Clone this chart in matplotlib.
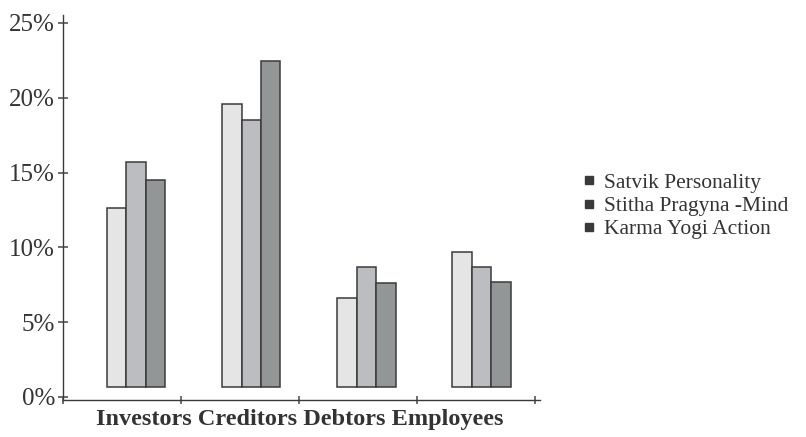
import matplotlib.pyplot as plt
from matplotlib.lines import Line2D
import numpy as np

categories = ["Investors", "Creditors", "Debtors", "Employees"]
series_names = ["Satvik Personality", "Stitha Pragyna -Mind", "Karma Yogi Action"]
satvik = [12.66, 19.55, 6.62, 9.69]
stitha = [15.68, 18.54, 8.68, 8.68]
karma = [14.52, 22.46, 7.63, 7.67]
y_ticks = [0, 5, 10, 15, 20, 25]
y_tick_labels = ["0%", "5%", "10%", "15%", "20%", "25%"]

colors = ["#e4e5e4", "#bcbdc0", "#939696"]
edge = "#3a3a3a"
text_col = "#333333"
serif = ["Liberation Serif", "DejaVu Serif"]

fig = plt.figure(figsize=(8.06, 4.37), dpi=100)
ax = fig.add_axes([0.078, 0.0847, 0.592, 0.881])

base = 0.67  # bars float slightly above the axis in the original
width = 0.165
centers = 0.62 + 0.975 * np.arange(len(categories))
for k, vals in enumerate([satvik, stitha, karma]):
    x = centers + (k - 1) * width
    ax.bar(x, np.array(vals) - base, bottom=base, width=width,
           color=colors[k], edgecolor=edge, linewidth=1.1, label=series_names[k])

ax.set_xlim(0, 4.04)
ax.set_ylim(-0.2, 25.53)
ax.set_yticks(y_ticks)
ax.set_yticklabels(y_tick_labels, fontfamily=serif, fontsize=18, color=text_col)
ax.set_xticks([0, 1, 2, 3, 4])
ax.set_xticklabels([])

for s in ["top", "right"]:
    ax.spines[s].set_visible(False)
for s in ["left", "bottom"]:
    ax.spines[s].set_color(edge)
    ax.spines[s].set_linewidth(1.0)
ax.tick_params(axis="y", direction="inout", length=7, width=1.2, color="#555555", pad=2)
ax.tick_params(axis="x", direction="inout", length=6, width=1.2, color="#555555")

fig.text(300 / 806, 1 - 419 / 437, " ".join(categories), ha="center", va="center",
         fontfamily=serif, fontweight="bold", fontsize=17.5, color=text_col)

handles = [Line2D([], [], marker="s", linestyle="none", markersize=6,
                  color=edge) for _ in series_names]
leg = fig.legend(handles, series_names, loc="center left",
                 bbox_to_anchor=(572 / 806, 1 - 206 / 437), frameon=False,
                 prop={"family": serif, "size": 15.5}, handletextpad=0.3,
                 labelspacing=0.15, handlelength=0.8, borderaxespad=0)
for t in leg.get_texts():
    t.set_color(text_col)

fig.savefig("out.png", dpi=100)
